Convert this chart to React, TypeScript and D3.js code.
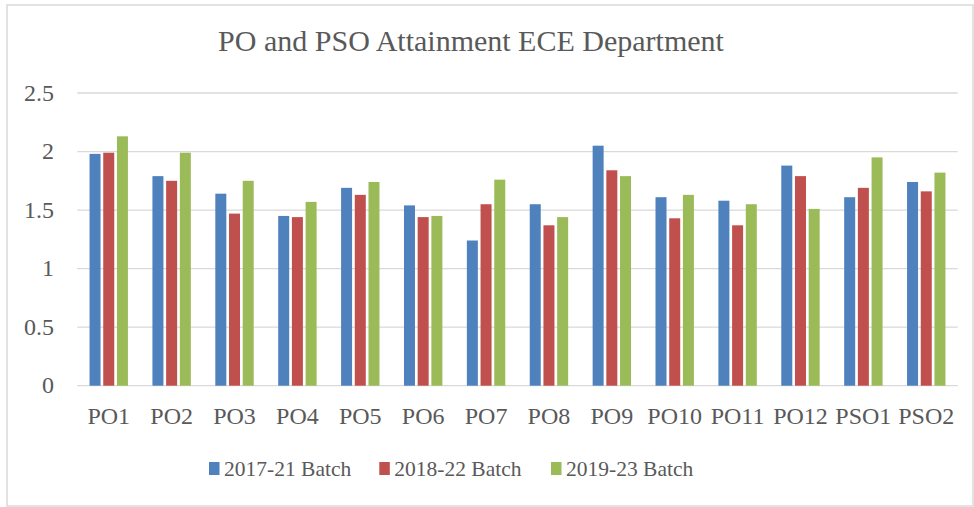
import React from 'react';
import * as d3 from 'd3';

const categories = ['PO1', 'PO2', 'PO3', 'PO4', 'PO5', 'PO6', 'PO7', 'PO8', 'PO9', 'PO10', 'PO11', 'PO12', 'PSO1', 'PSO2'];
const seriesNames = ['2017-21 Batch', '2018-22 Batch', '2019-23 Batch'];
const batch1721 = [1.98, 1.79, 1.64, 1.45, 1.69, 1.54, 1.24, 1.55, 2.05, 1.61, 1.58, 1.88, 1.61, 1.74];
const batch1822 = [1.99, 1.75, 1.47, 1.44, 1.63, 1.44, 1.55, 1.37, 1.84, 1.43, 1.37, 1.79, 1.69, 1.66];
const batch1923 = [2.13, 1.99, 1.75, 1.57, 1.74, 1.45, 1.76, 1.44, 1.79, 1.63, 1.55, 1.51, 1.95, 1.82];
const yTicks = [0, 0.5, 1, 1.5, 2, 2.5];

const colors = ['#4f81bd', '#c0504d', '#9bbb59'];
const textColor = '#595959';
const font = '"Liberation Serif", "DejaVu Serif", serif';

const App = () => {
  const width = 974;
  const height = 507;
  const plot = { left: 77.3, right: 957.7, top: 93, bottom: 385.7 };
  const seriesData = [batch1721, batch1822, batch1923];

  // scales
  const x0 = d3.scaleBand().domain(categories).range([plot.left, plot.right]);
  const x1 = d3.scaleBand().domain(seriesNames).range([0, 41.1]);
  const barW = x1.bandwidth() - 2.7;
  const groupW = x1.bandwidth() * 3 - 2.7;
  const y = d3.scaleLinear().domain([0, 2.5]).range([plot.bottom, plot.top]);

  const legendX = [209, 379.3, 551];

  return (
    <svg width={width} height={height} style={{ position: 'absolute', left: 0, top: 0, background: '#fff' }}>
      <rect x={7} y={5} width={966} height={501} fill="#fff" stroke="#d9d9d9" strokeWidth={1.5} />
      <text x={471} y={51} textAnchor="middle" fontFamily={font} fontSize={30} fill={textColor}>
        PO and PSO Attainment ECE Department
      </text>

      {/* gridlines and y labels */}
      {yTicks.map(t => (
        <g key={t}>
          <line x1={plot.left} x2={plot.right} y1={y(t)} y2={y(t)} stroke="#d9d9d9" strokeWidth={1.3} />
          <text x={54} y={y(t) + 7.5} textAnchor="end" fontFamily={font} fontSize={24} fill={textColor}>
            {t}
          </text>
        </g>
      ))}

      {/* bars */}
      {categories.map((c, ci) => {
        const start = (x0(c) as number) + x0.bandwidth() / 2 - groupW / 2;
        return (
          <g key={c}>
            {seriesNames.map((s, si) => (
              <rect
                key={s}
                x={start + (x1(s) as number)}
                y={y(seriesData[si][ci])}
                width={barW}
                height={y(0) - y(seriesData[si][ci])}
                fill={colors[si]}
              />
            ))}
          </g>
        );
      })}

      {/* category labels */}
      {categories.map(c => (
        <text key={c} x={(x0(c) as number) + x0.bandwidth() / 2} y={423.5} textAnchor="middle" fontFamily={font} fontSize={24} fill={textColor}>
          {c}
        </text>
      ))}

      {/* legend */}
      {seriesNames.map((s, i) => (
        <g key={s}>
          <rect x={legendX[i]} y={462} width={10.5} height={13} fill={colors[i]} />
          <text x={legendX[i] + 15} y={476} fontFamily={font} fontSize={21.5} fill={textColor}>
            {s}
          </text>
        </g>
      ))}
    </svg>
  );
};

export default App;
